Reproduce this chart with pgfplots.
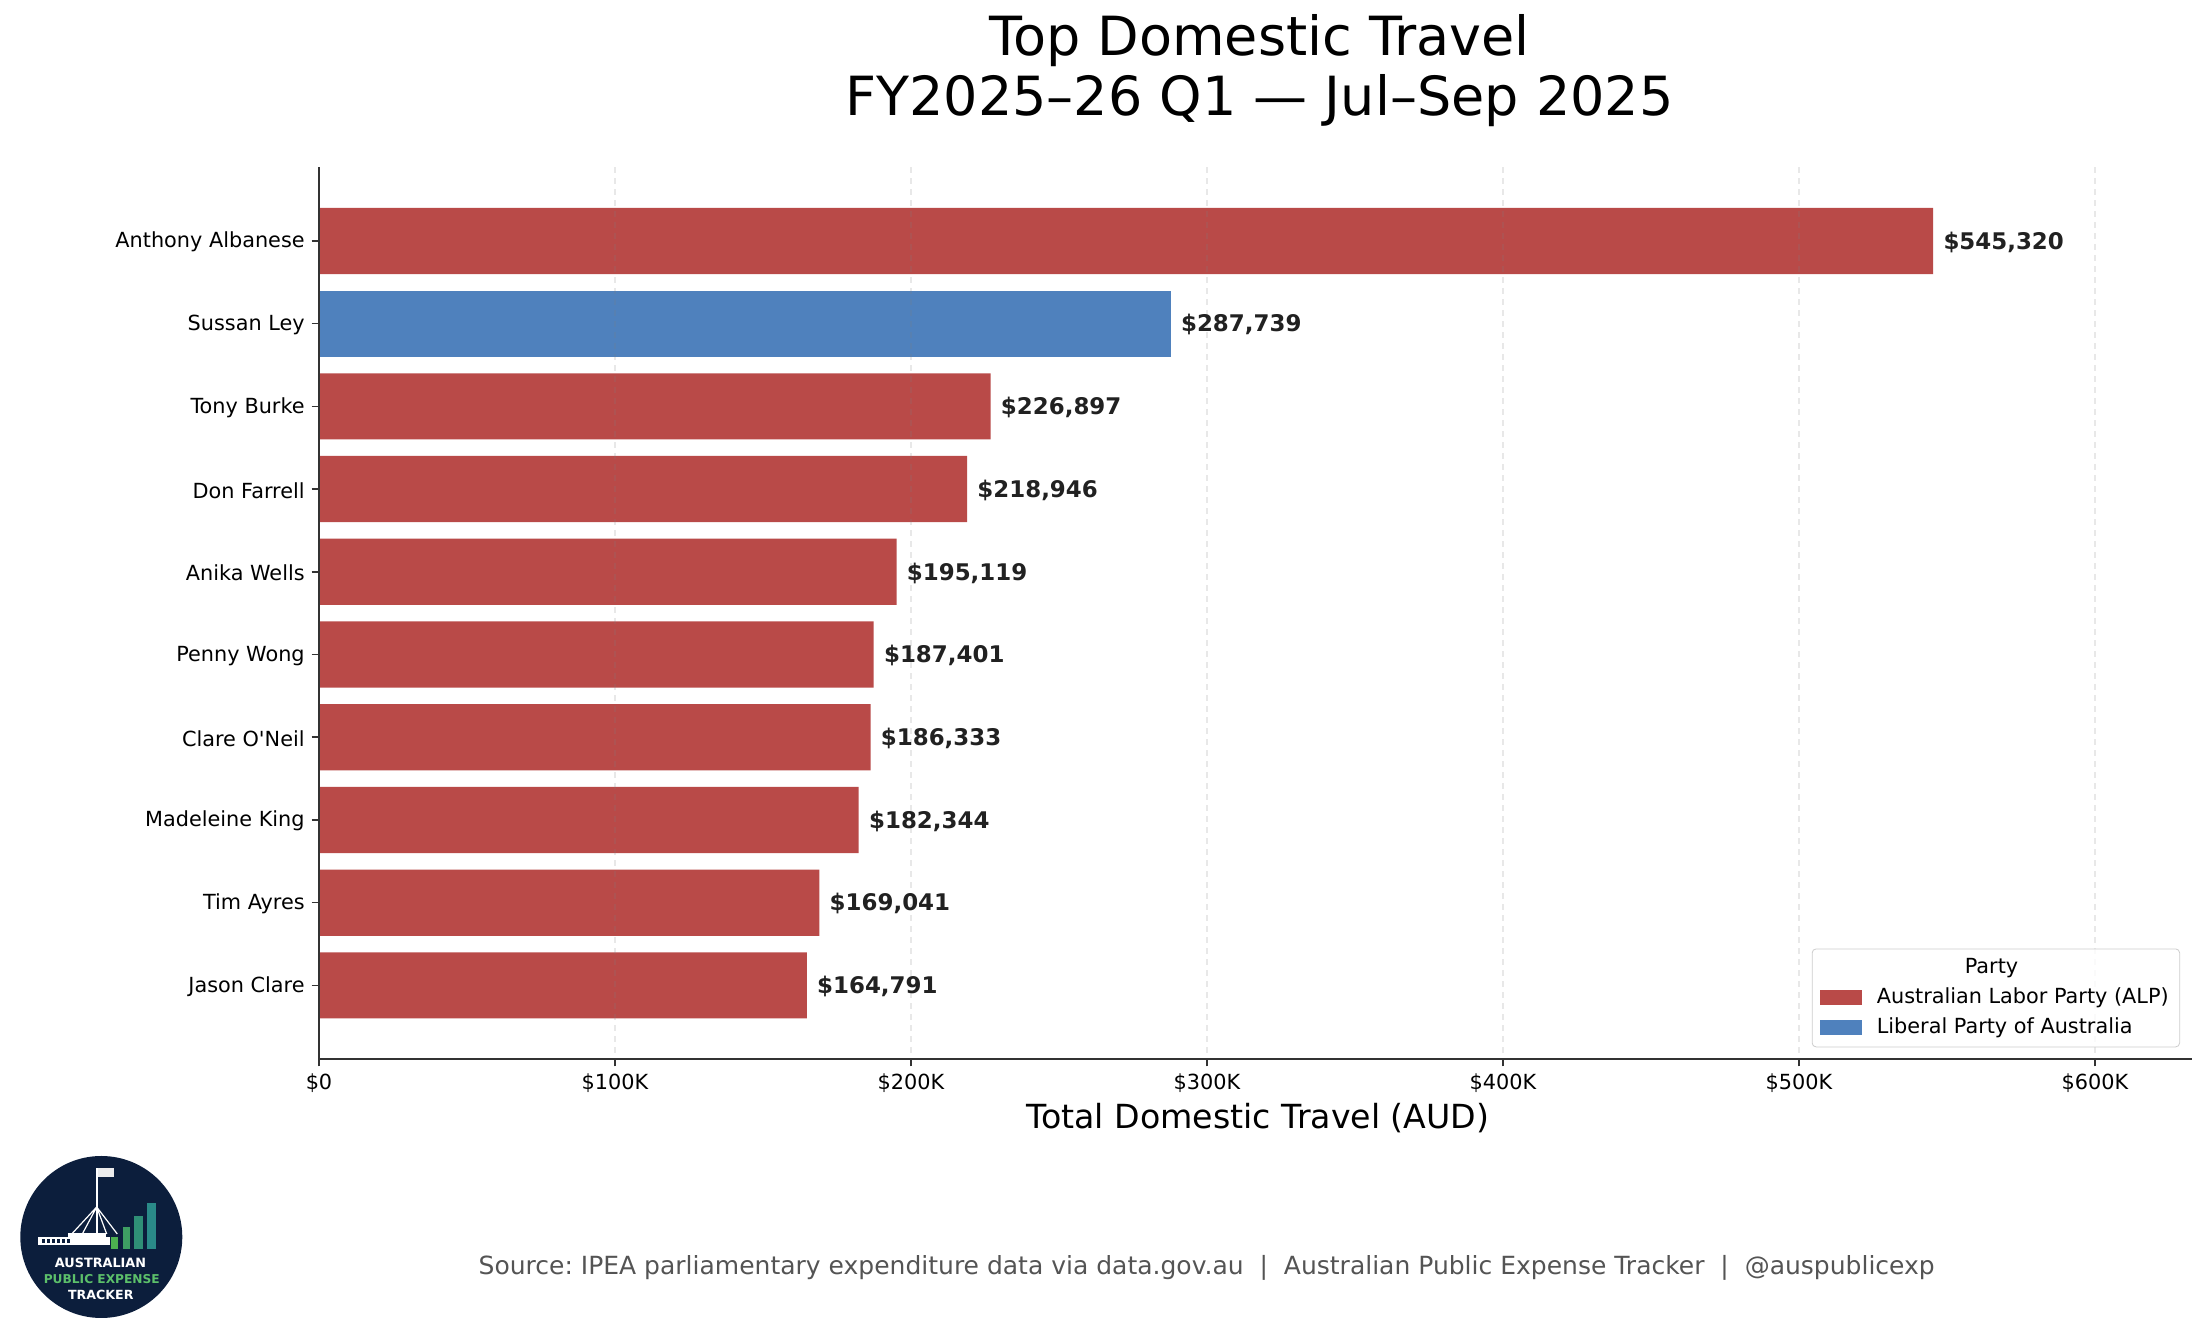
\documentclass[border=0pt]{standalone}
\usepackage{fontspec}
\setmainfont{DejaVu Sans}
\usepackage{pgfplots}
\pgfplotsset{compat=1.18}
\definecolor{alp}{HTML}{B94A48}
\definecolor{lib}{HTML}{4F81BD}
\definecolor{navy}{HTML}{0C1E3C}
\definecolor{lgreen}{HTML}{5CC06A}
\definecolor{bA}{HTML}{4CAF50}
\definecolor{bB}{HTML}{3E9E63}
\definecolor{bC}{HTML}{2F8F76}
\definecolor{bD}{HTML}{2A8A88}
\pgfplotsset{barlegend/.style={legend image code/.code={\fill[##1, sharp corners, fill opacity=1] (0pt,-3.75pt) rectangle (20.85pt,3.75pt);}}}
\begin{document}
\frenchspacing
\begin{tikzpicture}
\path[use as bounding box] (0,0) rectangle (1102.5pt,668.5pt);
\begin{axis}[
  at={(159.5pt,139pt)}, anchor=south west,
  scale only axis, width=936.5pt, height=445.85pt,
  xmin=0, xmax=632800, ymin=-0.89, ymax=9.89, y dir=reverse,
  xbar, bar width=0.8, bar shift=0pt,
  axis lines*=left,
  axis line style={-, line width=0.83pt, color=black!80},
  tick align=outside, major tick length=3.65pt,
  tick style={line width=0.83pt, color=black!80},
  xtick={0,100000,200000,300000,400000,500000,600000},
  xticklabels={\$0,\$100K,\$200K,\$300K,\$400K,\$500K,\$600K},
  scaled x ticks=false,
  ytick={0,1,2,3,4,5,6,7,8,9},
  yticklabels={Anthony Albanese,Sussan Ley,Tony Burke,Don Farrell,Anika Wells,Penny Wong,Clare O\textquotesingle Neil,Madeleine King,Tim Ayres,Jason Clare},
  ticklabel style={font=\fontsize{10.4}{12}\selectfont},
  yticklabel style={yshift=-0.6pt},
  xmajorgrids,
  major grid style={dash pattern=on 3pt off 2.5pt, color=gray, opacity=0.18, line width=0.6pt},
  axis on top,
  point meta=x,
  nodes near coords={\$\pgfmathprintnumber[fixed,precision=0,1000 sep={,},assume math mode=true]{\pgfplotspointmeta}},
  every node near coord/.append style={anchor=west, inner sep=0pt, xshift=5pt, yshift=-0.6pt, font=\fontsize{11.46}{13}\selectfont\bfseries, color=black!87},
  legend style={at={(0.9936,0.0131)}, anchor=south east, draw=black!20, rounded corners=2pt,
    fill=white, fill opacity=0.8, text opacity=1, font=\fontsize{10.4}{12}\selectfont,
    inner xsep=4pt, inner ysep=3pt, row sep=2pt,
    nodes={inner sep=1.5pt, text height=7.6pt, text depth=2.4pt},
    /tikz/every odd column/.append style={column sep=6pt}},
  legend cell align=left,
]
\addlegendimage{empty legend}
\addlegendentry{\hspace*{44pt}Party}
\addplot[fill=alp, draw=none, barlegend]
  coordinates {(545320,0) (226897,2) (218946,3) (195119,4) (187401,5) (186333,6) (182344,7) (169041,8) (164791,9)};
\addlegendentry{Australian Labor Party (ALP)}
\addplot[fill=lib, draw=none, barlegend]
  coordinates {(287739,1)};
\addlegendentry{Liberal Party of Australia}
\end{axis}
\begin{scope}[x=0.5pt,y=-0.5pt,shift={(0,668.5pt)}]
  % title
  \node[anchor=base, inner sep=0pt, font=\fontsize{27}{30}\selectfont] at (1259.5,56) {Top Domestic Travel};
  \node[anchor=base, inner sep=0pt, font=\fontsize{27}{30}\selectfont] at (1259.5,116) {FY2025–26 Q1 — Jul–Sep 2025};
  % x label
  \node[anchor=base, inner sep=0pt, font=\fontsize{16.6}{19}\selectfont] at (1258,1128.3) {Total Domestic Travel (AUD)};
  % source
  \node[anchor=base west, inner sep=0pt, font=\fontsize{12.5}{14}\selectfont, text=black!67] at (478.3,1275) {Source: IPEA parliamentary expenditure data via data.gov.au \ | \ Australian Public Expense Tracker \ | \ @auspublicexp};
  % logo
  \fill[navy] (101.3,1237) circle [radius=81];
  \fill[white] (38.3,1237.3) rectangle (110,1245);
  \foreach \xx in {42,47,52,57,62,67} {\fill[navy] (\xx,1239.5) rectangle (\xx+2.5,1243);}
  \fill[white] (68,1233) rectangle (106,1237.3);
  \draw[white, line width=0.8pt] (96.7,1236) -- (96.7,1168.3);
  \fill[white!85!gray] (97.7,1168.3) rectangle (114.3,1176.7);
  \draw[white, line width=0.6pt] (96.7,1207) -- (71.7,1234) (96.7,1207) -- (82.3,1234) (96.7,1207) -- (106.7,1234) (96.7,1207) -- (117.3,1234);
  \fill[bA] (111,1237.3) rectangle (118.3,1249);
  \fill[bB] (122.7,1227) rectangle (130.3,1249);
  \fill[bC] (134.3,1216) rectangle (143.3,1249);
  \fill[bD] (146.7,1202.7) rectangle (156,1249);
  \node[anchor=base, inner sep=0pt, text=white, font=\fontsize{6.4}{7}\selectfont\bfseries] at (100.5,1267.3) {AUSTRALIAN};
  \node[anchor=base, inner sep=0pt, text=lgreen, font=\fontsize{6.1}{7}\selectfont\bfseries] at (101.8,1283.3) {PUBLIC EXPENSE};
  \node[anchor=base, inner sep=0pt, text=white, font=\fontsize{6.3}{7}\selectfont\bfseries] at (100.8,1300) {TRACKER};
\end{scope}
\end{tikzpicture}
\end{document}
